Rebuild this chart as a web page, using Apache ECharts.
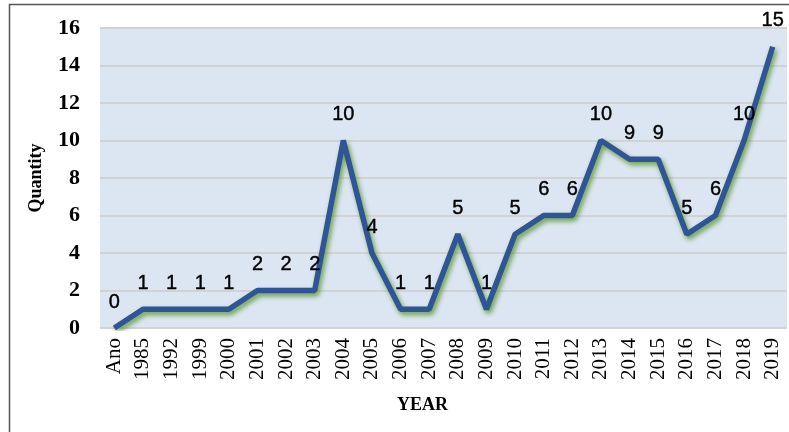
<!DOCTYPE html>
<html>
<head>
<meta charset="utf-8">
<script src="https://cdn.jsdelivr.net/npm/echarts@6/dist/echarts.min.js"></script>
<style>
  html, body { margin: 0; padding: 0; background: #fff; }
  #chart { width: 789px; height: 432px; }
</style>
</head>
<body>
<div id="chart"></div>
<script>
const years = ['Ano', '1985', '1992', '1999', '2000', '2001', '2002', '2003', '2004', '2005', '2006', '2007',
  '2008', '2009', '2010', '2011', '2012', '2013', '2014', '2015', '2016', '2017', '2018', '2019'];
const quantity = [0, 1, 1, 1, 1, 2, 2, 2, 10, 4, 1, 1, 5, 1, 5, 6, 6, 10, 9, 9, 5, 6, 10, 15];
const yTicks = [0, 2, 4, 6, 8, 10, 12, 14, 16];

const myChart = echarts.init(document.getElementById('chart'));
const option = {
  animation: false,
  graphic: [
    {
      type: 'rect',
      shape: { x: 9.5, y: 4.5, width: 800, height: 500 },
      style: { fill: 'none', stroke: '#555', lineWidth: 1.5 },
      z: -1,
    },
  ],
  grid: {
    left: 100,
    right: 2,
    top: 28,
    bottom: 104,
    show: true,
    backgroundColor: '#DCE6F2',
    borderWidth: 0,
  },
  xAxis: {
    type: 'category',
    data: years,
    boundaryGap: true,
    name: 'YEAR',
    nameLocation: 'middle',
    nameGap: 68,
    nameTextStyle: {
      fontFamily: 'Liberation Serif', fontWeight: 'bold', fontSize: 18, color: '#000',
      padding: [0, 42, 0, 0],
    },
    axisLine: { show: false },
    axisTick: { show: false },
    axisLabel: {
      rotate: 90,
      margin: 10,
      fontFamily: 'Liberation Serif',
      fontSize: 21,
      color: '#000',
      interval: 0,
    },
  },
  yAxis: {
    type: 'value',
    min: yTicks[0],
    max: yTicks[yTicks.length - 1],
    interval: 2,
    name: 'Quantity',
    nameLocation: 'middle',
    nameGap: 55,
    nameTextStyle: { fontFamily: 'Liberation Serif', fontWeight: 'bold', fontSize: 18, color: '#000' },
    axisLine: { show: false },
    axisTick: { show: false },
    axisLabel: {
      margin: 20,
      fontFamily: 'Liberation Serif',
      fontWeight: 'bold',
      fontSize: 22,
      color: '#000',
    },
    splitLine: { lineStyle: { color: '#D2D2D2', width: 2 } },
  },
  series: [
    {
      name: 'Quantity',
      type: 'line',
      data: quantity,
      symbol: 'circle',
      symbolSize: 2,
      showSymbol: true,
      itemStyle: { color: 'rgba(0,0,0,0)', borderWidth: 0 },
      lineStyle: {
        color: '#2F5597',
        width: 5.5,
        shadowColor: 'rgba(90,150,50,0.9)',
        shadowBlur: 5,
        shadowOffsetX: 2,
        shadowOffsetY: 3,
      },
      label: {
        show: true,
        position: 'top',
        distance: 15,
        fontFamily: 'Liberation Sans',
        fontSize: 20,
        color: '#000',
        textBorderColor: '#000',
        textBorderWidth: 0.4,
      },
      labelLayout: { hideOverlap: false },
    },
  ],
};
myChart.setOption(option);
</script>
</body>
</html>
